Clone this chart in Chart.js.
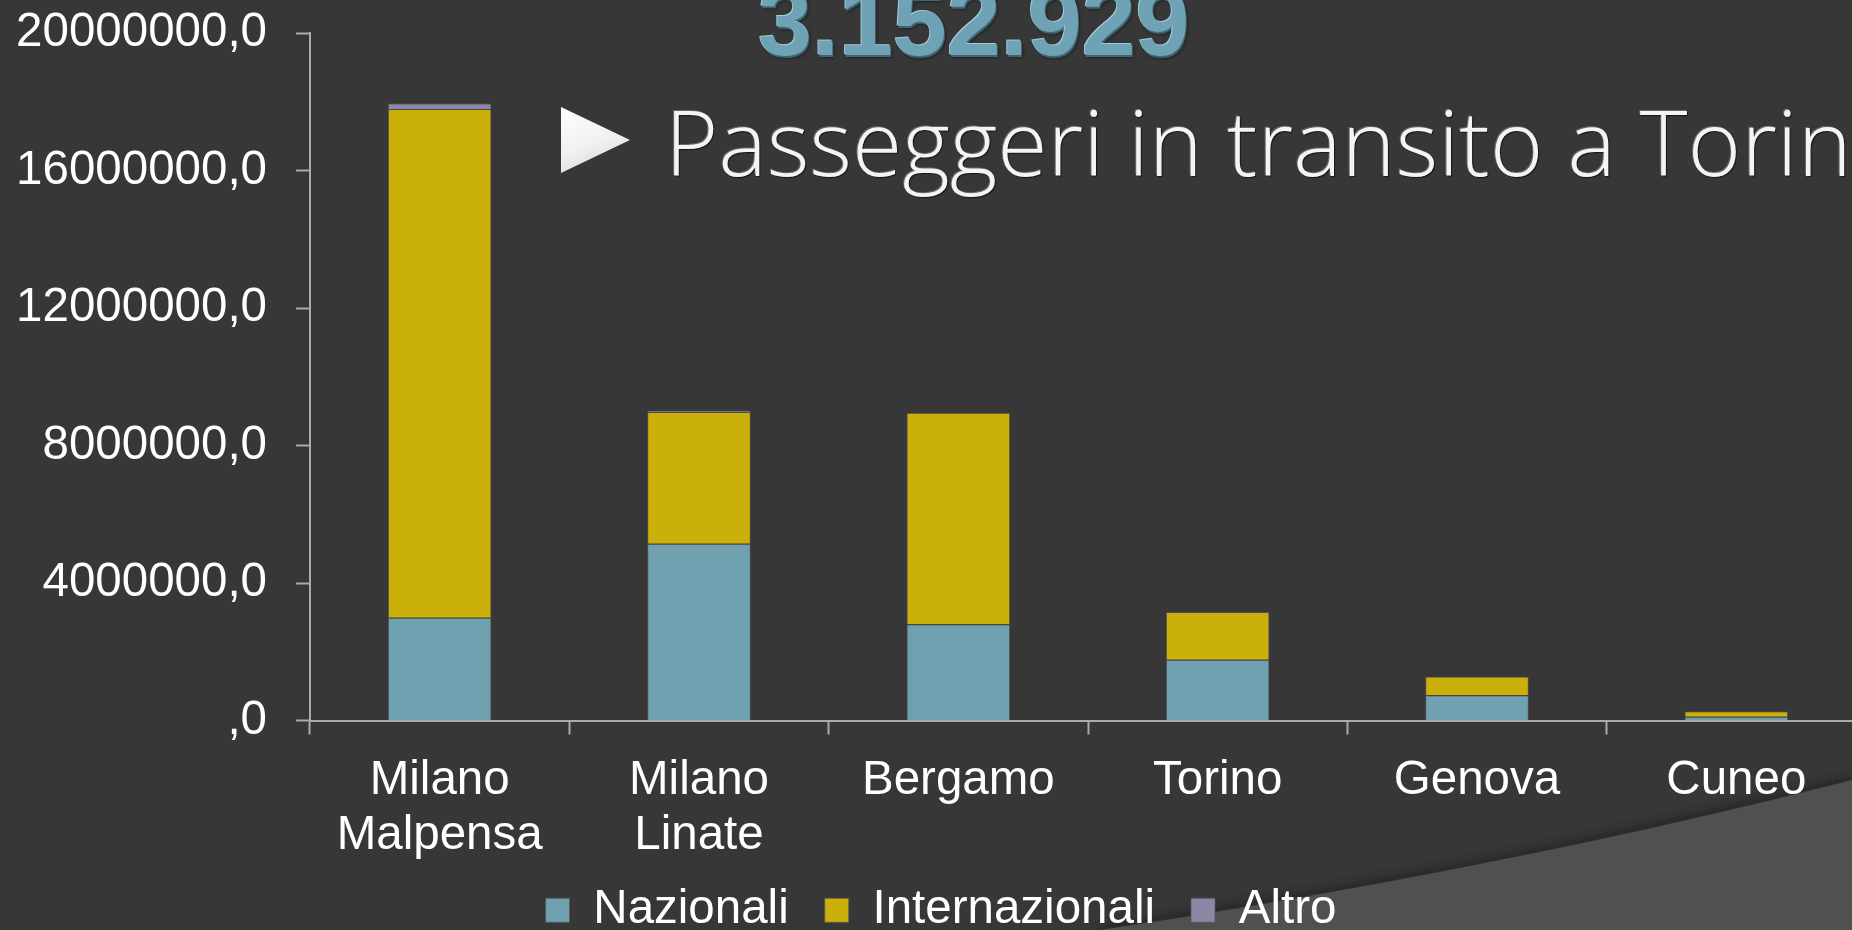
<!DOCTYPE html>
<html lang="it">
<head>
<meta charset="utf-8">
<title>Passeggeri per aeroporto</title>
<script src="https://cdn.jsdelivr.net/npm/chart.js@4.4.1/dist/chart.umd.min.js"></script>
<style>
  html, body { margin: 0; padding: 0; }
  body {
    width: 1852px; height: 930px; overflow: hidden; position: relative;
    background: #373737; font-family: "Liberation Sans", Arial, sans-serif;
  }
  #bg { position: absolute; left: 0; top: 0; }
  #grafico { position: absolute; left: 0; top: 0; }
  .totale {
    position: absolute; left: 758px; top: -27px;
    font-size: 97px; line-height: 1; font-weight: bold; white-space: nowrap;
    color: #6ea2b4;
    text-shadow: -1px -1px 0 #a3cbd8, 1px 2px 0 #3d6574, 2px 3px 3px rgba(0,0,0,0.4);
  }
  .bullet {
    position: absolute; left: 561px; top: 107px; width: 69px; height: 66px;
    clip-path: polygon(0 0, 100% 50%, 0 100%);
    background: linear-gradient(160deg, #ffffff 0%, #f0f0f0 55%, #cdcdcd 100%);
  }
  .riga {
    position: absolute; left: 665px; top: 96px;
    font-family: "Open Sans", "Liberation Sans", sans-serif; font-weight: 300;
    font-size: 91px; line-height: 1; white-space: nowrap; color: #f4f4f4;
    text-shadow: 1px 1px 1px rgba(0,0,0,0.6), -1px -1px 0 rgba(255,255,255,0.25);
  }
</style>
</head>
<body>
<svg id="bg" width="1852" height="930">
  <defs>
    <filter id="sfoca"><feGaussianBlur stdDeviation="4"/></filter>
  </defs>
  <path d="M1100 930 Q1500 870 1852 780" fill="none" stroke="#262626" stroke-width="10" filter="url(#sfoca)"/>
  <path d="M1100 930 Q1500 870 1852 780 L1852 930 Z" fill="#505050"/>
</svg>
<canvas id="grafico" width="1880" height="962"></canvas>
<div class="totale">3.152.929</div>
<div class="bullet"></div>
<div class="riga" id="riga">Passeggeri in transito a Torino</div>

<script>
// Passeggeri per aeroporto
var aeroporti = [["Milano", "Malpensa"], ["Milano", "Linate"], "Bergamo", "Torino", "Genova", "Cuneo"];
var nazionali = [2989000, 5142000, 2802000, 1766000, 736000, 108000];
var internazionali = [14800000, 3829000, 6152000, 1387000, 544000, 163000];
var altro = [165000, 50000, 0, 0, 0, 0];
var nomiSerie = ["Nazionali", "Internazionali", "Altro"];
var coloriSerie = ["#6fa1b1", "#cbaf0b", "#8b87a5"];
var yMax = 20000000;
var yStep = 4000000;

var fontAsse = { family: "'Liberation Sans', Arial, sans-serif", size: 47.5, lineHeight: 1.15 };
var coloreAsse = "#ababab";

// allarga la spaziatura della riga di titolo finché "Torin" tocca il bordo destro
function adattaRiga() {
  var riga = document.getElementById("riga");
  var prova = document.createElement("span");
  prova.className = "riga";
  prova.style.position = "absolute";
  prova.style.visibility = "hidden";
  prova.textContent = "Passeggeri in transito a Torin";
  document.body.appendChild(prova);
  var larghezza = prova.getBoundingClientRect().width;
  document.body.removeChild(prova);
  var extra = (1187 - larghezza) / 30;
  riga.style.letterSpacing = extra.toFixed(2) + "px";
}

// la legenda nell'originale sta più vicina alle etichette dell'asse
var spostaLegenda = {
  id: "spostaLegenda",
  afterLayout: function (chart) {
    chart.legend.top -= 12;
    chart.legend.bottom -= 12;
  }
};

window.onload = function () {
  adattaRiga();

  var ctx = document.getElementById("grafico").getContext("2d");
  var valori = [nazionali, internazionali, altro];

  var datasets = nomiSerie.map(function (nome, i) {
    return {
      label: nome,
      data: valori[i],
      backgroundColor: coloriSerie[i],
      borderColor: "rgba(85,85,85,0.7)",
      borderWidth: 1,
      categoryPercentage: 0.8,
      barPercentage: 0.5
    };
  });

  new Chart(ctx, {
    type: "bar",
    data: { labels: aeroporti, datasets: datasets },
    plugins: [spostaLegenda],
    options: {
      responsive: false,
      animation: false,
      layout: { padding: { left: 16, right: 14, top: 33, bottom: 6 } },
      plugins: {
        tooltip: { enabled: false },
        legend: {
          position: "bottom",
          labels: {
            color: "#ffffff",
            font: { family: "'Liberation Sans', Arial, sans-serif", size: 47.5 },
            boxWidth: 24,
            boxHeight: 24,
            padding: 36
          }
        }
      },
      scales: {
        x: {
          stacked: true,
          grid: {
            display: true,
            drawOnChartArea: false,
            drawTicks: true,
            tickLength: 14,
            tickColor: coloreAsse,
            tickWidth: 2,
            offset: true
          },
          border: { display: true, color: coloreAsse, width: 2 },
          ticks: {
            color: "#ffffff",
            font: fontAsse,
            padding: 19,
            maxRotation: 0,
            autoSkip: false
          },
          afterFit: function (scale) {
            scale.height = 142;
            scale.paddingLeft = 0;
            scale.paddingRight = 0;
          }
        },
        y: {
          stacked: true,
          min: 0,
          max: yMax,
          grid: {
            display: true,
            drawOnChartArea: false,
            drawTicks: true,
            tickLength: 14,
            tickColor: coloreAsse,
            tickWidth: 2
          },
          border: { display: true, color: coloreAsse, width: 2 },
          ticks: {
            stepSize: yStep,
            color: "#ffffff",
            font: fontAsse,
            padding: 29,
            callback: function (value) {
              return value === 0 ? ",0" : value + ",0";
            }
          },
          afterFit: function (scale) {
            scale.width = 294;
            scale.paddingTop = 0;
            scale.paddingBottom = 0;
          }
        }
      }
    }
  });
};
</script>
</body>
</html>
